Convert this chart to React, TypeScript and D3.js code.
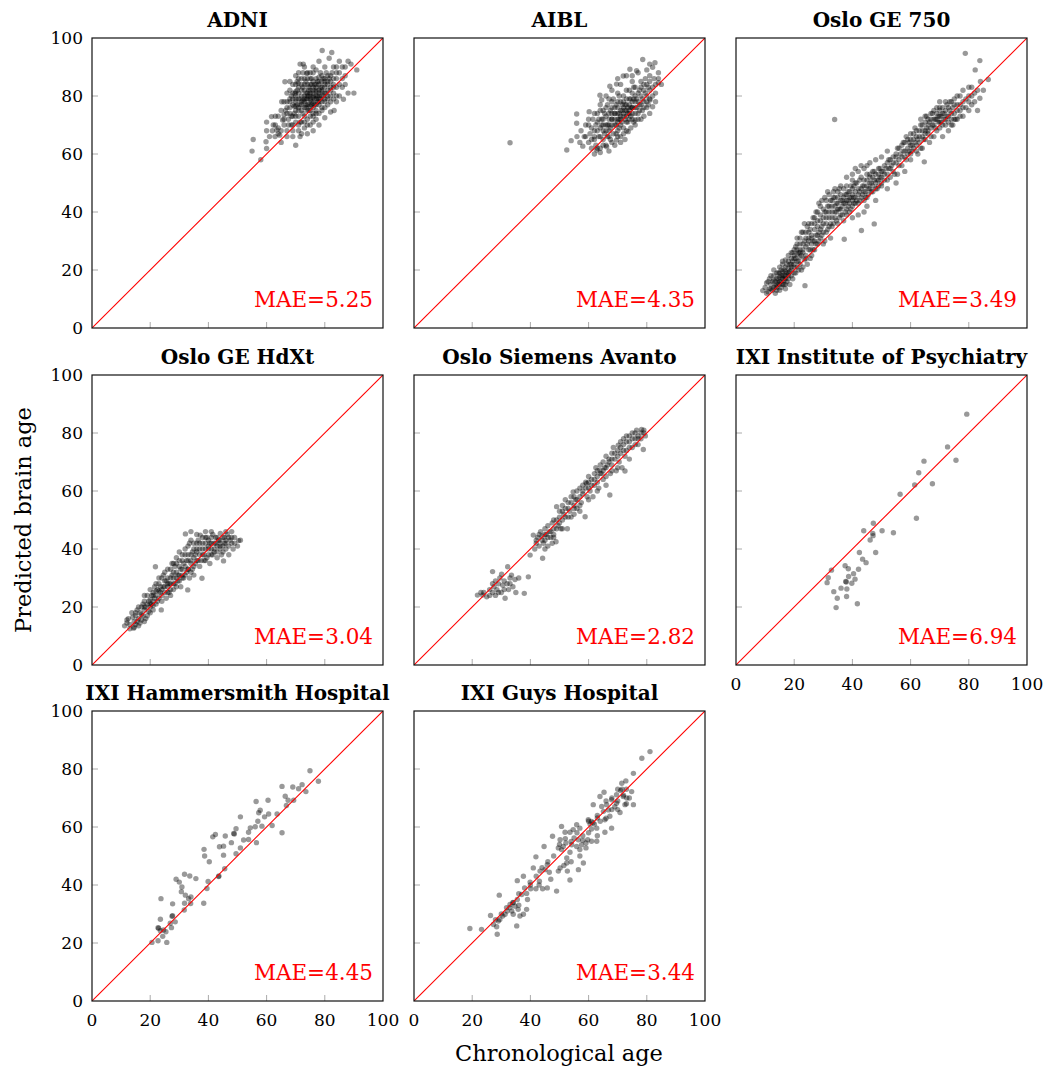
import React from "react";
import * as d3 from "d3";

type P = [number, number];

const titles = [
  "ADNI",
  "AIBL",
  "Oslo GE 750",
  "Oslo GE HdXt",
  "Oslo Siemens Avanto",
  "IXI Institute of Psychiatry",
  "IXI Hammersmith Hospital",
  "IXI Guys Hospital",
];
const maeLabels = ["MAE=5.25", "MAE=4.35", "MAE=3.49", "MAE=3.04", "MAE=2.82", "MAE=6.94", "MAE=4.45", "MAE=3.44"];
const tickValues = [0, 20, 40, 60, 80, 100];
const xAxisTitle = "Chronological age";
const yAxisTitle = "Predicted brain age";

const adni: P[] = [
  [55, 61], [55.4, 65], [58, 58], [59.8, 64.2], [60, 61.9], [60, 71], [61.7, 72.9], [62.3, 70], [63.5, 68.3], [62.9, 66],
  [63, 73], [64, 69], [64.5, 66.5], [65, 75], [65.2, 78], [65.5, 71.7], [66, 70], [66.3, 84.9], [66, 73.5], [67, 68],
  [67, 76], [67.5, 72], [68, 78], [68, 74], [68.5, 70], [68.5, 80], [69, 66], [69, 73], [69.5, 76.5], [69.8, 80.9],
  [70, 71], [70, 75], [70, 78], [70.5, 82], [70.9, 84.4], [71, 68], [71, 73], [71.5, 66], [71.5, 77], [71.5, 91],
  [72, 80], [72, 75], [72, 71], [72.6, 91], [72.5, 83], [73, 78], [73, 73], [73, 86], [73, 69], [73.5, 81],
  [73.5, 76], [73.8, 87.8], [74, 79], [74, 84], [74, 72], [74.5, 77], [74.5, 82], [75, 80], [75, 75], [75, 86],
  [75, 70], [75.5, 78], [75.5, 84], [76, 81], [76, 76], [76, 88], [76, 73], [76.5, 79], [77, 83], [77, 77],
  [77, 86], [77, 72], [77.5, 80], [78, 82], [78, 78], [78, 85], [78, 74], [78.5, 88], [79, 80], [79, 83],
  [79.1, 95.7], [79, 76], [79.5, 86], [80, 81], [80, 78], [80, 84], [80.5, 88], [81, 82], [81, 79], [81.5, 93],
  [81, 85], [82, 83], [82, 80], [82, 87], [82.4, 95], [83, 84], [83.2, 75], [83, 81], [84, 86], [84, 83],
  [85, 88], [85, 84], [86.4, 78.9], [86, 86], [86, 90], [87, 87], [89, 91], [88, 81], [87, 84], [84, 78],
  [82, 74.5], [80, 72.5], [78, 70], [76, 68], [74, 67], [65, 64], [70, 63], [60, 68], [84, 90], [80, 90],
  [78, 92], [77, 89], [70, 79], [71, 81], [72, 77], [72.5, 78.5], [73, 80], [73.5, 79], [74, 81], [74.5, 80],
  [75, 82], [75, 78.5], [76, 79.5], [76, 83], [77, 80], [77, 81.5], [78, 80], [78, 79], [79, 81.5], [72, 86],
  [73, 84], [74, 86], [75, 88], [71, 86], [70, 87], [68, 85], [67, 81], [69, 79], [70, 81.5], [71, 79],
  [76, 85], [77, 84], [79, 85], [80, 86], [81, 87], [78, 86.5], [74, 75], [73, 76], [75, 76.5], [76, 77.5],
  [71, 76], [70, 76.5], [69, 70], [72, 67], [80, 76], [82, 78], [84, 80], [90, 81], [91, 89], [88, 92],
  [66, 72], [66.5, 75], [67, 78], [67.5, 70], [68, 76], [68, 82], [68.5, 73], [69, 77], [69, 84], [69.5, 74],
  [70, 80], [70, 73], [70.5, 77], [70.5, 85], [71, 75], [71, 83], [71.5, 79], [71.5, 71], [72, 82], [72, 78],
  [72.5, 74], [72.5, 88], [73, 82], [73, 79], [73.5, 77], [73.5, 85], [74, 80], [74, 77], [74, 88], [74.5, 83],
  [74.5, 75], [75, 79], [75, 84], [75, 81], [75.5, 77], [75.5, 86], [76, 80], [76, 82], [76, 74], [76.5, 84],
  [76.5, 77], [77, 79], [77, 82], [77, 75], [77.5, 85], [77.5, 78], [78, 81], [78, 77], [78, 84], [78.5, 79],
  [78.5, 83], [79, 78], [79, 82], [79, 87], [79.5, 80], [80, 83], [80, 79], [80, 85], [80.5, 81], [81, 84],
  [81, 80], [81.5, 86], [82, 82], [82, 85], [82.5, 88], [83, 83], [83, 86], [84, 88], [72, 84], [71, 88],
  [73, 90], [76, 90], [70, 84], [69, 81], [68, 79], [67, 74], [66, 78], [65, 68], [64, 73], [63, 70],
  [62, 68], [61, 66], [71, 70], [73, 71], [75, 73], [77, 74], [79, 75], [81, 77], [83, 79], [85, 80],
  [86, 83], [87, 90], [85, 92], [83, 90], [76, 71], [74, 70], [69, 68], [67, 66], [64, 67],
];

const aibl: P[] = [
  [33, 63.9], [52.5, 61.4], [54, 64.6], [55.9, 73.8], [55.9, 70.6], [57.4, 68], [58, 62.7], [58.5, 66], [59, 70], [60.2, 74.6],
  [60, 64], [60.5, 67], [61, 62], [61, 69], [61.5, 72], [62, 65], [62, 68], [62.5, 63], [62.8, 61.4], [63, 71],
  [63, 74], [63.5, 66], [63.9, 80.3], [64, 69], [64, 62], [64.5, 78.6], [64.5, 72], [65, 65], [65, 70], [65, 75],
  [65.5, 67], [66, 73], [66, 63], [66.2, 62.5], [66.5, 77], [66.5, 70], [67, 68], [67, 72], [67.3, 83.4], [67.5, 75],
  [67.5, 65], [68, 70], [68, 74], [68, 78], [68.5, 67], [69, 72], [69, 76], [69, 63], [69.5, 70], [69.6, 84.1],
  [69.6, 64.8], [70, 74], [70, 68], [70, 78], [70.5, 72], [70.5, 80], [71, 66], [71, 75], [71, 70], [71.5, 77],
  [71.9, 86.9], [72, 73], [72, 69], [72, 80], [72.5, 75], [72.5, 65], [73, 71], [73, 77], [73, 82], [73.5, 74],
  [73.6, 67.7], [74, 79], [74, 72], [74.2, 89.2], [74.5, 76], [74.5, 69], [75, 74], [75, 81], [75, 78], [75.5, 71],
  [76, 76], [76, 83], [76, 71.7], [76.5, 88.7], [76.5, 79], [77, 74], [77, 81], [77.5, 77], [78, 80], [78, 72],
  [78, 85], [78.6, 92.6], [78.5, 75], [79, 82], [79, 78], [79.5, 86], [80, 80], [80, 76], [80.5, 83], [81, 79],
  [81.1, 78.6], [81, 87], [82, 76.3], [82, 89.9], [82, 83], [82.8, 91.5], [83, 81], [84, 84.6], [84, 86], [62, 60],
  [64, 60.5], [67, 61], [71, 64], [59, 66], [57, 64], [56, 66], [70, 86], [73, 87], [75, 85], [68, 72],
  [69, 74], [70, 71], [71, 73], [72, 76], [73, 75], [74, 74], [75, 76], [76, 78], [66, 68], [67, 70],
  [62, 66], [62.5, 70], [63, 68], [63.5, 72], [64, 66], [64, 75], [64.5, 70], [65, 72], [65, 68], [65.5, 74],
  [66, 70], [66, 76], [66.5, 66], [67, 74], [67, 79], [67.5, 69], [68, 72], [68, 76], [68, 64], [68.5, 79],
  [69, 70], [69, 74], [69.5, 77], [69.5, 67], [70, 72], [70, 76], [70, 81], [70.5, 69], [70.5, 74], [71, 72],
  [71, 78], [71.5, 75], [71.5, 71], [72, 74], [72, 78], [72, 67], [72.5, 77], [72.5, 72], [73, 73], [73, 79],
  [73.5, 76], [73.5, 71], [74, 75], [74, 77], [74, 82], [74.5, 73], [74.5, 79], [75, 76], [75, 72], [75.5, 79],
  [75.5, 83], [76, 74], [76, 80], [76.5, 76], [77, 78], [77, 72], [77.5, 82], [77.5, 75], [78, 77], [78, 83],
  [78.5, 79], [79, 76], [79, 84], [79.5, 81], [80, 78], [80, 84], [80.5, 77], [81, 82], [81, 85], [82, 80],
  [82.5, 86], [83, 84], [83, 78], [84, 88], [85, 84], [60, 70], [61, 65], [63, 62], [65, 63], [67, 66],
  [70, 66], [73, 68], [76, 70], [79, 73], [81, 74], [60, 72], [62, 74], [64, 77], [66, 80], [68, 82],
  [71, 84], [75, 87], [77, 88], [80, 89], [81, 91],
];

const osloGE750: P[] = [
  [9.2, 12.9], [10, 14], [10.5, 12], [11, 16], [11.5, 13.5], [12, 15], [12, 18], [12.5, 13], [13, 16.5], [13, 20],
  [13.5, 14.5], [14, 17], [14, 13], [14.5, 19], [14.5, 15.5], [15, 21], [15, 17.5], [15.5, 14], [15.5, 16], [16, 19.5],
  [16, 22], [16, 17], [16.5, 18], [17, 15], [17, 21], [17, 23.5], [17.5, 19], [18, 17], [18, 20.5], [18, 25],
  [18.5, 22], [19, 18], [19, 24], [19, 20], [19.5, 26], [20, 22], [20, 19], [20, 27], [20.5, 24], [21, 21],
  [21, 25.5], [21, 29], [21.5, 23], [22, 27], [22, 31], [22, 24.5], [22.5, 20], [23, 26], [23, 29], [23.7, 14.6],
  [23, 33], [23.5, 23.5], [24, 28], [24, 31], [24, 25], [24.5, 35], [25, 27], [25, 30], [25, 33], [25.5, 24],
  [26, 29], [26, 32], [26, 36], [26.5, 27], [27, 30], [27, 34], [27, 38], [27.5, 32], [28, 29], [28, 35],
  [28, 40], [28.5, 33], [29, 37], [29, 31], [29, 42], [29.5, 35], [30, 33], [30, 38], [30, 41], [30.5, 30],
  [31, 36], [31, 40], [31, 44], [31.5, 34], [32, 38], [32, 42], [32, 46], [32.5, 36], [33, 40], [33, 44],
  [33, 35], [33.5, 47], [33.9, 71.9], [34, 38], [34, 42], [34, 45], [34.5, 40], [35, 36], [35, 43], [35, 47],
  [35.5, 41], [36, 39], [36, 44], [36, 49], [36.5, 42], [37, 37], [37, 45], [37.2, 30.6], [37.5, 43], [38, 41],
  [38, 46], [38, 49], [38.5, 44], [39, 40], [39, 47], [39.5, 45], [40, 42], [40, 48], [40, 51], [40.5, 45],
  [41, 43], [41, 47], [41.5, 50], [42, 39], [42, 46], [42.5, 44], [43, 48], [43.1, 33.6], [43, 52], [43.5, 46],
  [44, 44], [44, 49], [44.5, 47], [45, 51], [45, 45], [45.5, 48], [46, 50], [46, 53], [46.5, 47], [47, 49],
  [47.5, 35.9], [47, 52], [47.5, 54], [48, 50], [48.5, 48], [49, 53], [49, 51], [49.5, 55], [50, 52], [50, 49],
  [50.5, 54], [51, 56], [51, 51], [52, 53], [52, 57], [52.5, 55], [53, 52], [53, 58], [53.5, 56], [54, 54],
  [54, 59], [55, 57], [55, 60], [55.5, 53], [56, 58], [56, 62], [56.5, 60], [57, 56], [57, 63], [57.5, 61],
  [58, 59], [58, 64], [58.5, 66], [59, 60], [59, 62], [59.5, 64], [60, 58], [60, 63], [60, 67], [60.5, 61],
  [61, 65], [61, 62], [61.5, 69], [62, 63], [62, 66], [62.5, 60], [63, 64], [63, 68], [63.5, 70], [64, 66],
  [64, 62], [64.7, 57.3], [65, 68], [65, 71], [65, 65], [65.5, 73], [66, 67], [66, 70], [66.5, 64], [67, 69],
  [67, 72], [67.5, 74], [68, 70], [68, 66], [68.5, 72], [69, 74], [69, 68], [69.5, 71], [70, 73], [70, 76],
  [70, 69], [70.5, 71], [71, 74], [71, 66], [71.5, 72], [72, 75], [72, 70], [72.5, 77], [73, 73], [73, 68],
  [73.5, 75], [74, 72], [74, 78], [74.5, 70], [75, 74], [75, 77], [75.5, 72], [76, 75], [76, 80], [77, 73],
  [77, 77], [78, 76], [78, 82], [78.8, 94.7], [79, 79], [80, 75], [80, 80], [81, 83], [81, 77], [82.2, 89],
  [83.8, 92.2], [83.8, 79.2], [84, 85], [86.7, 85.7], [82, 81], [83, 75], [85, 82], [15, 16], [16, 18], [17, 17],
  [14, 15], [16.5, 15], [18, 19], [13, 14], [15, 19], [17, 19.5], [20, 24], [22, 26], [19, 22], [21, 27],
  [10.5, 15.5], [11, 12.5], [11.5, 17], [12, 13.5], [12.5, 16], [13, 18], [13.5, 12], [13.5, 16], [14, 19], [14, 14],
  [14.5, 17], [15, 15], [15, 13], [15.5, 18], [15.5, 20], [16, 15], [16, 23], [16.5, 16.5], [16.5, 20], [17, 18],
  [17, 13.5], [17.5, 22], [17.5, 16], [18, 18], [18, 23], [18.5, 19.5], [18.5, 15], [19, 21], [19, 26], [19.5, 23],
  [19.5, 17], [20, 25], [20, 21], [20.5, 19], [20.5, 28], [21, 23], [21, 31], [21.5, 26], [21.5, 20], [22, 29],
  [22, 22], [22.5, 25], [22.5, 33], [23, 21], [23, 27], [23.5, 30], [23.5, 36], [24, 24], [24, 33], [24.5, 29],
  [24.5, 22], [25, 31], [25, 36], [25.5, 27], [25.5, 34], [26, 25], [26, 31], [26.5, 38], [26.5, 30], [27, 27],
  [27, 36], [27.5, 29], [27.5, 40], [28, 32], [28, 37], [28.5, 30], [28.5, 43], [29, 34], [29, 39], [29.5, 32],
  [29.5, 44], [30, 36], [30, 29], [30.5, 40], [30.5, 45], [31, 33], [31, 38], [31.5, 42], [31.5, 47], [32, 35],
  [32, 40], [32.5, 44], [32.5, 31], [33, 38], [33, 42], [33.5, 45], [33.5, 36], [34, 40], [34, 48], [34.5, 43],
  [34.5, 37], [35, 41], [35, 45], [35.5, 38], [35.5, 48], [36, 41], [36, 46], [36.5, 44], [36.5, 39], [37, 43],
  [37, 48], [37.5, 40], [37.5, 46], [38, 44], [38, 39], [38.5, 47], [38.5, 42], [39, 45], [39, 43], [39.5, 49],
  [39.5, 41], [40, 46], [40, 44], [40.5, 43], [40.5, 49], [41, 45], [41, 50], [41.5, 44], [42, 48], [42, 43],
  [42.5, 47], [42.5, 51], [43, 45], [43.5, 49], [44, 47], [44, 51], [44.5, 45], [45, 49], [45, 53], [45.5, 46],
  [46, 48], [46, 52], [46.5, 50], [47, 47], [47, 54], [47.5, 51], [48, 53], [48, 48], [48.5, 51], [49, 49],
  [49, 55], [49.5, 52], [50, 54], [50, 50], [51, 53], [51.5, 55], [52, 51], [52.5, 58], [53, 55], [54, 57],
  [54.5, 53], [55, 59], [55.5, 62], [56, 56], [57, 59], [57.5, 64], [58, 61], [58.5, 58], [59, 65], [59.5, 61],
  [60, 60], [60, 65], [60.5, 63], [61, 67], [61.5, 64], [62, 68], [62, 61], [62.5, 65], [63, 66], [63.5, 62],
  [63.5, 72], [64, 68], [64, 70], [64.5, 65], [65, 67], [65, 73], [65.5, 69], [66, 72], [66, 68], [66.5, 71],
  [67, 66], [67, 74], [67.5, 70], [68, 72], [68, 75], [68.5, 69], [69, 72], [69, 76], [69.5, 73], [70, 71],
  [70, 75], [70, 78], [70.5, 73], [71, 76], [71, 70], [71.5, 74], [72, 72], [72, 78], [72.5, 73], [73, 76],
  [73, 71], [73.5, 78], [74, 74], [74, 70], [74.5, 76], [75, 72], [75, 79], [76, 77], [76, 72], [77, 75],
  [77, 80], [78, 73], [78, 78], [79, 76], [80, 78], [80, 83], [81, 80], [82, 78], [83, 82],
  [38, 52], [40, 53], [41, 55], [42, 54], [43, 56], [44, 55], [45, 56], [46, 57], [48, 58], [50, 59],
  [52, 61], [40, 38], [44, 40], [45, 42], [48, 44], [52, 48], [55, 50], [58, 54],
];

const osloHdXt: P[] = [
  [11.2, 13.5], [12, 14.5], [12.5, 16], [13, 12.5], [13.7, 18], [14.3, 12.7], [14.5, 15], [15, 17], [15, 14], [15.5, 19],
  [16, 16], [16, 13.5], [16.5, 18], [17, 20], [17, 15.5], [17.5, 17], [18, 22], [18, 19], [18.5, 16], [19, 21],
  [19, 24], [19.5, 18.5], [20, 22.5], [20, 20], [20, 26], [20.5, 24], [21, 19], [21, 22], [21.5, 27], [21.8, 33.9],
  [22, 24], [22, 21], [22.5, 26], [23, 23], [23, 28], [23.8, 19], [23.5, 25], [24, 30], [24, 22], [24.5, 27],
  [25, 25], [25, 29], [25, 32], [25.5, 23], [26, 27], [26, 30], [26.5, 25], [27, 33], [27, 28], [27.5, 31],
  [28, 26], [28, 30], [28, 35], [28.5, 28], [29, 32], [29, 37], [29.5, 29], [30, 34], [30, 31], [30, 39],
  [30.5, 27], [31, 33], [31, 36], [31.5, 30], [32, 38], [32.1, 45.2], [32, 34], [32.5, 32], [32.9, 25.9], [33, 36],
  [33, 41], [33.5, 30], [34, 35], [34, 38], [34, 43], [34.5, 33], [35, 37], [35, 40], [35, 31], [35.5, 35],
  [36, 39], [36, 42], [36.5, 36], [37, 34], [37.2, 44.8], [37, 40], [37.8, 29.9], [38, 38], [38, 42], [38.5, 36],
  [39, 40], [39, 44], [39.5, 37], [40, 41], [40, 38], [40, 43], [40.5, 35], [41, 40], [41, 44], [41.5, 38],
  [42, 42], [42, 39], [42.5, 44], [43, 41], [43, 37], [43.5, 43], [44, 40], [44.1, 45.4], [44, 42], [44.5, 38],
  [45, 41], [45, 44], [45.2, 35.9], [45.5, 42], [46, 40], [46, 43], [46.5, 45], [47, 41], [47, 38], [47.5, 43],
  [48, 44], [48.5, 40], [49, 42], [50.4, 42.9], [48, 46], [46, 46], [41, 46], [39, 46], [36, 45], [34, 46],
  [21, 24], [22, 25.5], [24, 26], [26, 28], [27, 26], [29, 30], [31, 31], [33, 33], [20, 21], [18, 20],
  [12, 15.5], [13, 14], [14, 16.5], [14.5, 13], [15, 18], [15.5, 15], [16, 20], [16.5, 14.5], [17, 17.5], [17.5, 21],
  [18, 15], [18, 24], [18.5, 20], [19, 17], [19.5, 22], [20, 18], [20.5, 21], [21, 25], [21, 20.5], [21.5, 23],
  [22, 28], [22.5, 22], [23, 25.5], [23, 30], [23.5, 27], [24, 24], [24.5, 31], [25, 27], [25.5, 29], [26, 25],
  [26, 33], [26.5, 28], [27, 30], [27, 24], [27.5, 35], [28, 28], [28, 32], [28.5, 34], [29, 27], [29, 35],
  [29.5, 31], [30, 29], [30, 36], [30.5, 33], [31, 38], [31, 30], [31.5, 35], [32, 31], [32, 40], [32.5, 36],
  [33, 33], [33, 38], [33.5, 42], [34, 36], [34, 32], [34.5, 39], [35, 34], [35, 42], [35.5, 38], [36, 36],
  [36, 40], [36.5, 43], [37, 38], [37, 42], [37.5, 36], [38, 40], [38, 44], [38.5, 38], [39, 42], [39, 36],
  [39.5, 44], [40, 40], [40.5, 42], [41, 38], [41, 42], [41.5, 45], [42, 40], [42.5, 42], [43, 39], [43, 44],
  [44, 41], [44, 43], [45, 39], [45.5, 44], [46, 42], [47, 44], [48, 42], [49, 44], [50, 41], [51, 43],
];

const osloAvanto: P[] = [
  [21.8, 24.1], [23.6, 24.1], [23, 25], [25, 23.5], [26, 26], [27, 32.2], [27, 25], [27.5, 27], [28, 29], [28, 24],
  [28.5, 26], [29, 28], [29.5, 30], [30.1, 31.3], [30, 25], [30.5, 27.5], [31, 29], [31.3, 23], [32, 28], [32.2, 33.9],
  [32.5, 26], [33, 30], [33.5, 31], [34, 27], [34.7, 29.5], [35, 25], [36, 30], [37.9, 24.7], [39.3, 30.4], [39.9, 37.9],
  [41, 44.8], [41.5, 40], [42, 42], [42.5, 44], [43, 41], [43.5, 46], [44, 44.5], [44.2, 36.8], [44.5, 42], [45, 47],
  [45, 43], [45.5, 45], [46, 48], [46, 41], [46.5, 46], [47, 44], [47.5, 49], [47.5, 42], [48, 47], [48.8, 42.5],
  [49, 54.6], [49, 50], [49.5, 48], [50, 51], [50, 53], [50.5, 47], [51, 55], [51, 50], [51.5, 52], [52, 57],
  [52, 54], [52.7, 47], [53, 51], [53, 56], [53.5, 53], [54, 58], [54.7, 59.7], [55, 55], [55, 52], [55.5, 57],
  [56, 60], [56, 54], [57, 58], [57, 61], [57.5, 56], [58, 62], [58, 59], [58.8, 51.1], [59, 63], [59.3, 62.6],
  [59.5, 58], [60, 61], [60, 65], [60.5, 60], [61, 64], [61.5, 58], [62, 66], [62, 62], [62.5, 68], [63, 65],
  [63.5, 61], [63.9, 67.2], [64, 69], [64.5, 66], [65, 70], [65, 64], [65.5, 68], [66, 72], [66, 62], [66.5, 69],
  [67, 71], [67.3, 58.6], [67.5, 66], [68, 73], [68, 69], [68.5, 75], [69, 71], [69.5, 67], [70, 74], [70.2, 75.8],
  [70.5, 70], [71, 77], [71, 73], [71.5, 68], [72, 76], [72.5, 66.9], [72.5, 72], [73, 79], [73, 74], [74, 77],
  [74, 71], [75, 80], [75, 75], [76, 78], [76.5, 81], [77, 76], [77, 79], [78.2, 81.2], [78.8, 74.3], [78, 80],
  [79, 81], [79.5, 79], [42, 43], [43, 45], [44, 43], [45, 45], [46, 44], [47, 46], [48, 45], [48, 50],
  [49, 47], [50, 49], [51, 53], [52, 51], [53, 54], [54, 56], [55, 54], [55, 58], [56, 57], [57, 55],
  [58, 60], [59, 61], [60, 63], [61, 62], [62, 64], [63, 63], [63, 67], [64, 66], [65, 67], [66, 68],
  [67, 70], [68, 71], [69, 73], [70, 72], [71, 75], [72, 74], [73, 77], [74, 75], [75, 78], [76, 76],
  [77, 78], [78, 78], [79, 80], [76, 80], [74, 79], [72, 78], [70, 68], [68, 67], [66, 65], [63, 60],
  [60, 57], [57, 53], [54, 51], [51, 47], [48, 44], [45, 40], [24, 25], [26, 24], [29, 25], [31, 26],
  [33, 28], [27, 28],
];

const ixiIoP: P[] = [
  [79.3, 86.5], [72.7, 75.2], [75.6, 70.6], [64.6, 70.3], [62.8, 66.3], [61.4, 62.1], [67.5, 62.5], [56.4, 58.9], [62, 50.6], [47.2, 48.9],
  [43.9, 46.3], [47, 45.4], [47.1, 44.6], [50.2, 46.3], [54.1, 45.6], [46.1, 43.1], [42.4, 38.8], [48, 38.8], [43.5, 36.5], [44.7, 35.3],
  [37.5, 34.2], [38.6, 33.2], [32.8, 32.7], [42.1, 33], [31.7, 30.1], [31.3, 28.4], [40.4, 31.5], [38.7, 30.5], [40.9, 29.6], [39.8, 28.2],
  [37.7, 28.8], [37.9, 28.6], [36.1, 26.5], [38.1, 26.2], [33.6, 25.3], [34.8, 23], [38, 23.6], [41.7, 21.1], [34.4, 19.8],
];

const ixiHammersmith: P[] = [
  [74.9, 79.4], [77.8, 75.8], [72.2, 74.6], [69, 73.8], [71, 73.2], [73.5, 72.2], [65.3, 74], [66.4, 70.6], [67.4, 69.2], [69.3, 69.2],
  [66.8, 67.4], [60.5, 69.2], [56.4, 68.8], [57.8, 65.8], [57.3, 64.9], [60.7, 64.5], [59.3, 63.5], [63.6, 64.5], [57, 62], [61.9, 60.5],
  [58.4, 60.3], [56.1, 60.1], [65.3, 58], [54.4, 59.7], [51, 63.5], [53.8, 58.2], [56.5, 54.6], [53.8, 55.7], [52.1, 55.5], [49.5, 59.4],
  [48.7, 57.8], [48.9, 57.6], [45.8, 56.9], [47.9, 54.6], [51, 52.8], [49.5, 50.8], [42.4, 57.4], [41.5, 56.6], [43.8, 53.2], [45.2, 53.4],
  [45.2, 50.3], [38.5, 52.3], [38.7, 50], [40.3, 48], [45.6, 45.6], [43.5, 42.9], [43.6, 43.1], [39.9, 41.2], [39.5, 38.8], [38.4, 33.7],
  [35.7, 42.2], [33.6, 43.1], [31.8, 43.7], [28.9, 42], [30, 41], [30.9, 39.3], [30.7, 37.7], [32.1, 36.5], [34, 35.9], [33.2, 35.3],
  [33.9, 33.6], [31.8, 33.7], [31.7, 31.4], [27.7, 33.5], [23.7, 35.3], [23.5, 28.2], [27.7, 29.4], [27.5, 29.2], [28.6, 27.3], [26.9, 26.8],
  [22.7, 25.3], [22.9, 25.1], [23.5, 24.2], [24.6, 24.5], [25.4, 23.9], [27.3, 25.3], [24.3, 22.3], [22.7, 20.8], [20.6, 20.2], [25.7, 20.2],
];

const ixiGuys: P[] = [
  [81.1, 86], [78.3, 83.7], [75.4, 78.5], [72.8, 75.9], [71.4, 75.1], [74.8, 72.2], [71, 72.6], [65.3, 72], [63.9, 70.5], [69.6, 71.1],
  [71.9, 70.5], [73.1, 70], [75.4, 67.7], [72.5, 67.7], [69.6, 68.2], [67.9, 69.4], [66.2, 67.7], [64.5, 67.1], [61.6, 67.7], [66.8, 65.9],
  [65.1, 65.4], [70.8, 65], [67.3, 63.7], [65.6, 62.5], [63, 63.1], [61, 61.9], [59.9, 62.5], [67.9, 59.6], [65.6, 58.2], [62.8, 59.6],
  [61, 59.3], [57, 59.6], [55.9, 60.8], [54.7, 59.1], [53.6, 58.2], [51.9, 58.2], [50.7, 60.2], [47.6, 56.8], [50.2, 55.6], [52.2, 54.5],
  [55, 56.2], [56.5, 55.6], [58, 55.4], [59.7, 55.6], [61, 55.1], [62.8, 55.1], [59.1, 54.5], [57.6, 53.9], [55.9, 53.3], [54.2, 53.9],
  [51.3, 53.3], [49.6, 52.8], [59.1, 52.8], [57, 52.2], [53.6, 51.3], [50.7, 52.2], [44.7, 53.3], [52.5, 49.3], [52.5, 47.6], [51.5, 46.7],
  [50.2, 45.9], [49.6, 44.8], [52.7, 44.8], [58.2, 47.6], [56.5, 45.3], [53.6, 41.7], [49, 37.9], [45.8, 47], [45, 45.3], [46.5, 44.4],
  [41.9, 49.7], [41, 45.9], [43.3, 44.8], [45.8, 39], [44.2, 38.7], [43.1, 41.3], [41.9, 38.7], [39.9, 41], [37.6, 43], [35.5, 41.5],
  [40.1, 38.7], [38.7, 37.1], [37, 36.7], [35.5, 35], [34.1, 33.9], [33, 33.3], [34.7, 32.7], [35.8, 31.6], [31.8, 32.2], [29.3, 36.5],
  [33.6, 31], [31.3, 29.9], [34.1, 29.9], [37.6, 29.9], [38.7, 31.6], [36.4, 29.3], [26.3, 29.5], [29.5, 28.1], [30.5, 29.3], [29, 27.6],
  [28.4, 25.6], [27.3, 26.4], [28.6, 23], [35.3, 25.9], [23.2, 24.7], [19.2, 25], [33, 32.2], [60.5, 61], [61.5, 61.5], [71.5, 73],
  [60, 62], [62, 61], [63, 64], [64, 62], [66, 63], [68, 66], [69, 67], [70, 69], [72, 71], [73, 73],
  [74, 70], [70, 73], [68, 70], [66, 69], [58, 57], [56, 58], [54, 55], [52, 56], [50, 54], [48, 50],
  [46, 48], [44, 46], [42, 43], [40, 40], [38, 39], [36, 37], [34, 34], [32, 31], [30, 30], [28, 28],
  [60, 58], [63, 57], [57, 50], [54, 48], [47, 42], [43, 40], [39, 35], [36, 33], [70, 66], [73, 68],
];

const panelPoints: P[][] = [adni, aibl, osloGE750, osloHdXt, osloAvanto, ixiIoP, ixiHammersmith, ixiGuys];

const W = 1047;
const H = 1069;
const colX = [92, 414, 736];
const rowY = [38, 375, 711];
const PW = 291;
const PH = 290;
const FONT = "'DejaVu Serif', serif";

export default function App() {
  return (
    <svg width={W} height={H} style={{ position: "absolute", left: 0, top: 0, background: "#fff" }} fontFamily={FONT}>
      <rect x={0} y={0} width={W} height={H} fill="#fff" />
      {titles.map((title, i) => {
        const r = Math.floor(i / 3);
        const c = i % 3;
        const x0 = colX[c];
        const y0 = rowY[r];
        const xs = d3.scaleLinear().domain([0, 100]).range([x0, x0 + PW]);
        const ys = d3.scaleLinear().domain([0, 100]).range([y0 + PH, y0]);
        const showX = r === 2 || i === 5;
        const showY = c === 0;
        const clipId = `clip${i}`;
        const diag = d3.line<[number, number]>().x((d) => xs(d[0])).y((d) => ys(d[1]));
        return (
          <g key={i}>
            <defs>
              <clipPath id={clipId}>
                <rect x={x0} y={y0} width={PW} height={PH} />
              </clipPath>
            </defs>
            {tickValues.slice(1, -1).map((t) => (
              <g key={t} stroke="#aaa" strokeWidth={1}>
                <line x1={xs(t)} x2={xs(t)} y1={y0 + PH} y2={y0 + PH - 6} />
                <line x1={x0} x2={x0 + 6} y1={ys(t)} y2={ys(t)} />
              </g>
            ))}
            <g clipPath={`url(#${clipId})`}>
              {panelPoints[i].map((p, k) => (
                <circle key={k} cx={xs(p[0])} cy={ys(p[1])} r={2.7} fill="#000" fillOpacity={0.4} />
              ))}
              <path d={diag([[0, 0], [100, 100]]) || ""} stroke="#ff0000" strokeWidth={1.1} fill="none" />
            </g>
            <rect x={x0} y={y0} width={PW} height={PH} fill="none" stroke="#111" strokeWidth={1.2} />
            <text x={x0 + PW / 2} y={y0 - 11} textAnchor="middle" fontWeight="bold" fontSize={20}>
              {title}
            </text>
            <text x={x0 + PW - 10} y={y0 + PH - 21} textAnchor="end" fontSize={21.5} fill="#ff0000">
              {maeLabels[i]}
            </text>
            {showY &&
              tickValues.map((t) => (
                <text key={t} x={x0 - 9} y={ys(t)} dy="0.36em" textAnchor="end" fontSize={17}>
                  {t}
                </text>
              ))}
            {showX &&
              tickValues.map((t) => (
                <text key={t} x={xs(t)} y={y0 + PH + 25} textAnchor="middle" fontSize={17}>
                  {t}
                </text>
              ))}
          </g>
        );
      })}
      <text x={559} y={1061} textAnchor="middle" fontSize={22.5}>
        {xAxisTitle}
      </text>
      <text transform="translate(31,520) rotate(-90)" textAnchor="middle" fontSize={22.5}>
        {yAxisTitle}
      </text>
    </svg>
  );
}
